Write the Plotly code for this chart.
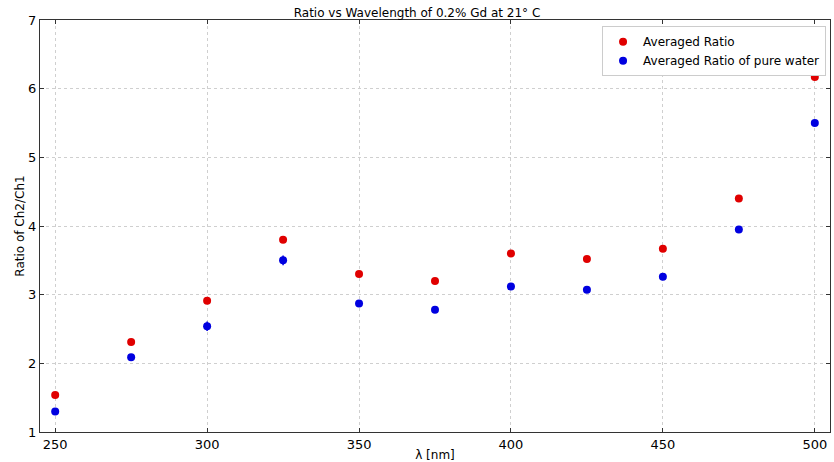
import plotly.graph_objects as go

wavelength = [250, 275, 300, 325, 350, 375, 400, 425, 450, 475, 500]
ratio_gd = [1.54, 2.31, 2.91, 3.80, 3.30, 3.20, 3.60, 3.52, 3.67, 4.40, 6.17]
ratio_gd_err = [0.02, 0.03, 0.03, 0.03, 0.02, 0.02, 0.02, 0.02, 0.02, 0.03, 0.03]
ratio_water = [1.30, 2.09, 2.54, 3.50, 2.87, 2.78, 3.12, 3.07, 3.26, 3.95, 5.50]
ratio_water_err = [0.02, 0.03, 0.07, 0.07, 0.02, 0.02, 0.02, 0.02, 0.02, 0.05, 0.02]
x_ticks = [250, 300, 350, 400, 450, 500]
y_ticks = [1, 2, 3, 4, 5, 6, 7]

fig = go.Figure()
fig.add_trace(go.Scatter(
    x=wavelength, y=ratio_gd, mode="markers", name="Averaged Ratio",
    marker=dict(color="#e00000", size=8, line=dict(width=0)),
    error_y=dict(type="data", array=ratio_gd_err, color="#e00000", thickness=1.5, width=0),
))
fig.add_trace(go.Scatter(
    x=wavelength, y=ratio_water, mode="markers", name="Averaged Ratio of pure water",
    marker=dict(color="#0000e0", size=8, line=dict(width=0)),
    error_y=dict(type="data", array=ratio_water_err, color="#0000e0", thickness=1.5, width=0),
))

axis_common = dict(
    showline=True, mirror="ticks", linecolor="#333333", linewidth=1,
    showgrid=True, gridcolor="#cfcfcf", griddash="dot", gridwidth=1,
    ticks="inside", ticklen=4, tickcolor="#333333", zeroline=False,
    tickfont=dict(family="DejaVu Sans", size=13, color="black"),
)

fig.update_layout(
    width=834, height=462,
    margin=dict(l=40, r=4, t=20, b=30, autoexpand=False),
    paper_bgcolor="white", plot_bgcolor="white",
    font=dict(family="DejaVu Sans", size=12, color="black"),
    title=dict(text="Ratio vs Wavelength of 0.2% Gd at 21° C",
               x=0.5, xanchor="center", y=0.982, yanchor="top",
               font=dict(family="DejaVu Sans", size=12, color="black")),
    xaxis=dict(range=[245, 505], tickvals=x_ticks,
               title=dict(text="λ [nm]", standoff=4, font=dict(size=12)), **axis_common),
    yaxis=dict(range=[1, 7], tickvals=y_ticks,
               title=dict(text="Ratio of Ch2/Ch1", standoff=0, font=dict(size=12)), **axis_common),
    legend=dict(x=0.995, y=0.985, xanchor="right", yanchor="top",
                bgcolor="white", bordercolor="#cccccc", borderwidth=1,
                font=dict(family="DejaVu Sans", size=12)),
    showlegend=True,
)

fig.write_html("out.html", config={"displayModeBar": False})

with open("out.html", "r", encoding="utf-8") as f:
    html = f.read()
html = html.replace("<head>", "<head><style>html,body{margin:0;padding:0;overflow:hidden;}</style>", 1)
with open("out.html", "w", encoding="utf-8") as f:
    f.write(html)
